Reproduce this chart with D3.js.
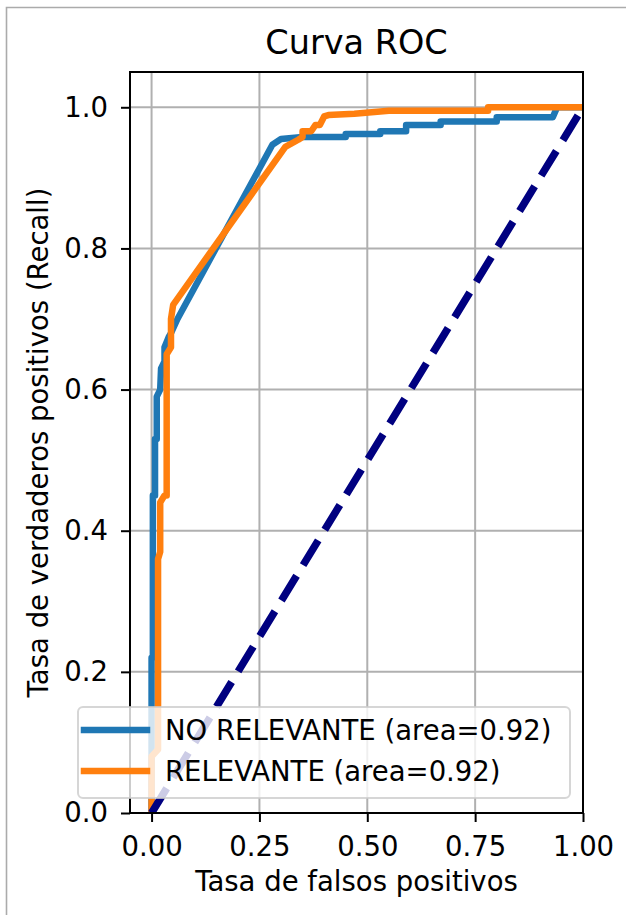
<!DOCTYPE html>
<html>
<head>
<meta charset="utf-8">
<script src="https://cdn.jsdelivr.net/npm/d3@7"></script>
<style>
  html, body { margin: 0; padding: 0; background: #fff; }
  svg { display: block; font-family: "DejaVu Sans", sans-serif; }
</style>
</head>
<body>
<svg id="chart" width="626" height="915"></svg>
<script>
// ---- data ----
const fprNoRel = [0, 0, 0.003, 0.003, 0.008, 0.008, 0.012, 0.012, 0.02, 0.022, 0.03, 0.03, 0.04, 0.045, 0.06, 0.28, 0.30, 0.35, 0.45, 0.45, 0.53, 0.53, 0.59, 0.59, 0.67, 0.67, 0.80, 0.80, 0.93, 0.94, 1.0];
const tprNoRel = [0, 0.22, 0.22, 0.45, 0.45, 0.53, 0.53, 0.59, 0.60, 0.63, 0.64, 0.66, 0.675, 0.68, 0.70, 0.947, 0.955, 0.958, 0.958, 0.962, 0.962, 0.966, 0.966, 0.975, 0.975, 0.98, 0.98, 0.986, 0.986, 1.0, 1.0];
const fprRel = [0, 0, 0.015, 0.015, 0.02, 0.02, 0.03, 0.035, 0.035, 0.045, 0.045, 0.05, 0.31, 0.34, 0.35, 0.35, 0.37, 0.38, 0.39, 0.40, 0.41, 0.47, 0.55, 0.78, 0.78, 1.0];
const tprRel = [0, 0.08, 0.09, 0.36, 0.37, 0.44, 0.45, 0.45, 0.65, 0.66, 0.70, 0.72, 0.944, 0.954, 0.958, 0.966, 0.966, 0.975, 0.975, 0.987, 0.989, 0.991, 0.995, 0.995, 1.0, 1.0];
const chanceX = [0, 1];
const chanceY = [0, 1];
const seriesNames = ["NO RELEVANTE", "RELEVANTE"];
const seriesAreas = [0.92, 0.92];
const xTicks = [0, 0.25, 0.5, 0.75, 1.0];
const yTicks = [0, 0.2, 0.4, 0.6, 0.8, 1.0];
const titleText = "Curva ROC";
const xLabel = "Tasa de falsos positivos";
const yLabel = "Tasa de verdaderos positivos (Recall)";

// ---- layout ----
const W = 626, H = 915;
const L = 130, R = 583, T = 72, B = 813;
const FS = 27.5;
const svg = d3.select("#chart");

// frame border of the screenshot
svg.append("path").attr("d", `M6.5,${H} L6.5,7.5 L${W},7.5`)
  .attr("fill", "none").attr("stroke", "#ababab").attr("stroke-width", 1.6);

const x = d3.scaleLinear().domain([-0.05, 1.0]).range([L, R]);
const y = d3.scaleLinear().domain([0, 1.05]).range([B, T]);

svg.append("defs").append("clipPath").attr("id", "clip")
  .append("rect").attr("x", L).attr("y", T).attr("width", R - L).attr("height", B - T);

// grid
const grid = svg.append("g");
grid.selectAll("line.vx").data(xTicks).join("line")
  .attr("x1", d => x(d)).attr("x2", d => x(d)).attr("y1", T).attr("y2", B)
  .attr("stroke", "#b0b0b0").attr("stroke-width", 2);
grid.selectAll("line.hy").data(yTicks).join("line")
  .attr("y1", d => y(d)).attr("y2", d => y(d)).attr("x1", L).attr("x2", R)
  .attr("stroke", "#b0b0b0").attr("stroke-width", 2);

const plot = svg.append("g").attr("clip-path", "url(#clip)");
const line = d3.line().x(d => x(d[0])).y(d => y(d[1]));

const series = [
  { pts: d3.zip(fprNoRel, tprNoRel), color: "#1f77b4" },
  { pts: d3.zip(fprRel, tprRel), color: "#ff7f0e" }
];
series.forEach(s => {
  plot.append("path").attr("d", line(s.pts)).attr("fill", "none")
    .attr("stroke", s.color).attr("stroke-width", 6.5)
    .attr("stroke-linejoin", "round").attr("stroke-linecap", "square");
});
plot.append("path").attr("d", line(d3.zip(chanceX, chanceY))).attr("fill", "none")
  .attr("stroke", "#000080").attr("stroke-width", 7.5)
  .attr("stroke-dasharray", "29,12.5").attr("stroke-linecap", "butt");

// axes
const xAxis = d3.axisBottom(x).tickValues(xTicks).tickFormat(d3.format(".2f"))
  .tickSizeInner(9).tickSizeOuter(0).tickPadding(14);
const yAxis = d3.axisLeft(y).tickValues(yTicks).tickFormat(d3.format(".1f"))
  .tickSizeInner(9).tickSizeOuter(0).tickPadding(13);

const gx = svg.append("g").attr("transform", `translate(0,${B})`).call(xAxis);
const gy = svg.append("g").attr("transform", `translate(${L},0)`).call(yAxis);
[gx, gy].forEach(g => {
  g.select(".domain").remove();
  g.selectAll(".tick line").attr("stroke", "#000").attr("stroke-width", 2);
  g.selectAll(".tick text").attr("fill", "#000").attr("font-size", FS)
    .attr("font-family", "DejaVu Sans");
});

// spines
svg.append("rect").attr("x", L).attr("y", T).attr("width", R - L).attr("height", B - T)
  .attr("fill", "none").attr("stroke", "#000").attr("stroke-width", 2);

// title and labels
svg.append("text").attr("x", (L + R) / 2).attr("y", 54).attr("text-anchor", "middle")
  .attr("font-size", 33.5).attr("fill", "#000").text(titleText);
svg.append("text").attr("x", (L + R) / 2).attr("y", 891).attr("text-anchor", "middle")
  .attr("font-size", FS).attr("fill", "#000").text(xLabel);
svg.append("text").attr("transform", `translate(48,${(T + B) / 2}) rotate(-90)`)
  .attr("text-anchor", "middle").attr("font-size", FS).attr("fill", "#000").text(yLabel);

// legend
const lg = svg.append("g");
lg.append("rect").attr("x", 78).attr("y", 707).attr("width", 492).attr("height", 91)
  .attr("rx", 5).attr("fill", "#fff").attr("fill-opacity", 0.8)
  .attr("stroke", "#cccccc").attr("stroke-opacity", 0.8).attr("stroke-width", 2);
const rows = [
  { name: seriesNames[0], area: seriesAreas[0], color: "#1f77b4", cy: 730 },
  { name: seriesNames[1], area: seriesAreas[1], color: "#ff7f0e", cy: 771 }
];
rows.forEach(r => {
  lg.append("line").attr("x1", 84).attr("x2", 147).attr("y1", r.cy).attr("y2", r.cy)
    .attr("stroke", r.color).attr("stroke-width", 6.5).attr("stroke-linecap", "square");
  lg.append("text").attr("x", 165).attr("y", r.cy + 10).attr("font-size", FS).attr("fill", "#000")
    .text(`${r.name} (area=${r.area.toFixed(2)})`);
});
</script>
</body>
</html>
